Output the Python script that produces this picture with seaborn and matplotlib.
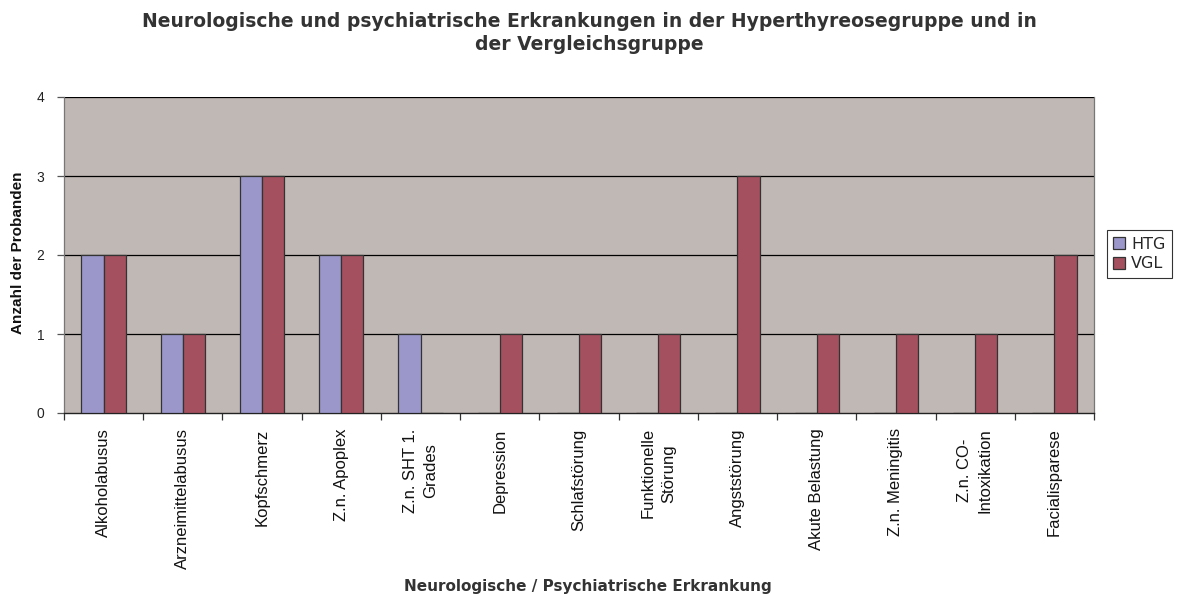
import matplotlib
matplotlib.use("Agg")
import matplotlib.pyplot as plt
import seaborn as sns
import pandas as pd
import numpy as np
from matplotlib.ticker import FixedLocator

categories = ["Alkoholabusus", "Arzneimittelabusus", "Kopfschmerz", "Z.n. Apoplex",
              "Z.n. SHT 1.\nGrades", "Depression", "Schlafstörung", "Funktionelle\nStörung",
              "Angststörung", "Akute Belastung", "Z.n. Meningitis", "Z.n. CO-\nIntoxikation",
              "Facialisparese"]
htg = [2, 1, 3, 2, 1, 0, 0, 0, 0, 0, 0, 0, 0]
vgl = [2, 1, 3, 2, 0, 1, 1, 1, 3, 1, 1, 1, 2]
series = ["HTG", "VGL"]
yticks = [0, 1, 2, 3, 4]

title = "Neurologische und psychiatrische Erkrankungen in der Hyperthyreosegruppe und in\nder Vergleichsgruppe"
xlabel = "Neurologische / Psychiatrische Erkrankung"
ylabel = "Anzahl der Probanden"

df = pd.DataFrame({
    "Kategorie": categories * 2,
    "Wert": htg + vgl,
    "Gruppe": ["HTG"] * len(categories) + ["VGL"] * len(categories),
})

sns.set_theme(style="white")
plt.rcParams["font.family"] = ["Liberation Sans", "DejaVu Sans"]
wide = ["DejaVu Sans"]

fig = plt.figure(figsize=(11.8, 5.96), dpi=100)
ax = fig.add_axes([64/1180, 1-413/596, (1094-64)/1180, (413-97)/596])
ax.set_facecolor("#C0B8B4")

palette = {"HTG": "#9B97CA", "VGL": "#A5505E"}
sns.barplot(data=df, x="Kategorie", y="Wert", hue="Gruppe", order=categories,
            hue_order=series, palette=palette, width=0.56, edgecolor="#333333",
            linewidth=0.9, saturation=1, ax=ax, legend=True, zorder=3)

ax.set_ylim(0, 4)
ax.set_xlim(-0.5, len(categories) - 0.5)
ax.set_yticks(yticks)
ax.set_yticklabels([str(t) for t in yticks], fontsize=10, color="#222222")
for t in yticks[1:]:
    ax.axhline(t, color="black", linewidth=0.9, zorder=1)

ax.set_xticks(range(len(categories)))
ax.set_xticklabels(categories, rotation=90, fontsize=12, va="top", ha="center",
                   multialignment="center", color="#111111", linespacing=1.45)
ax.xaxis.set_minor_locator(FixedLocator(np.arange(-0.5, len(categories), 1.0)))
ax.tick_params(axis="x", which="major", length=0, pad=11)
ax.tick_params(axis="x", which="minor", length=5, width=0.9, color="#333333", direction="out", bottom=True)
ax.tick_params(axis="y", which="major", length=5, width=0.9, color="#555555", direction="out", left=True, pad=9)

for s in ["left", "right", "top"]:
    ax.spines[s].set_color("#777777")
    ax.spines[s].set_linewidth(0.9)
ax.spines["top"].set_visible(False)
ax.spines["bottom"].set_color("#222222")
ax.spines["bottom"].set_linewidth(1.0)

ax.set_xlabel("")
ax.set_ylabel("")
fig.text(588/1180, 1-587/596, xlabel, ha="center", va="center", fontsize=11,
         fontweight="bold", color="#333333", family=wide)
fig.text(18/1180, 1-253/596, ylabel, ha="center", va="center", rotation=90, fontsize=11,
         fontweight="bold", color="#111111")
fig.text(589/1180, 1-33/596, title, ha="center", va="center", fontsize=13.5, fontweight="bold",
         color="#333333", linespacing=1.3, family=wide)

handles, labels = ax.get_legend_handles_labels()
ax.get_legend().remove()
leg = fig.legend(handles, labels, loc="center left", bbox_to_anchor=(1107/1180, 1-254/596),
                 frameon=True, handlelength=0.75, handleheight=0.75,
                 handletextpad=0.35, borderpad=0.4, labelspacing=0.3, fancybox=False,
                 borderaxespad=0, prop={"family": wide, "size": 11.5})
leg.get_frame().set_edgecolor("black")
leg.get_frame().set_linewidth(0.8)
leg.get_frame().set_facecolor("white")

fig.savefig("out.png", dpi=100, facecolor="white")
